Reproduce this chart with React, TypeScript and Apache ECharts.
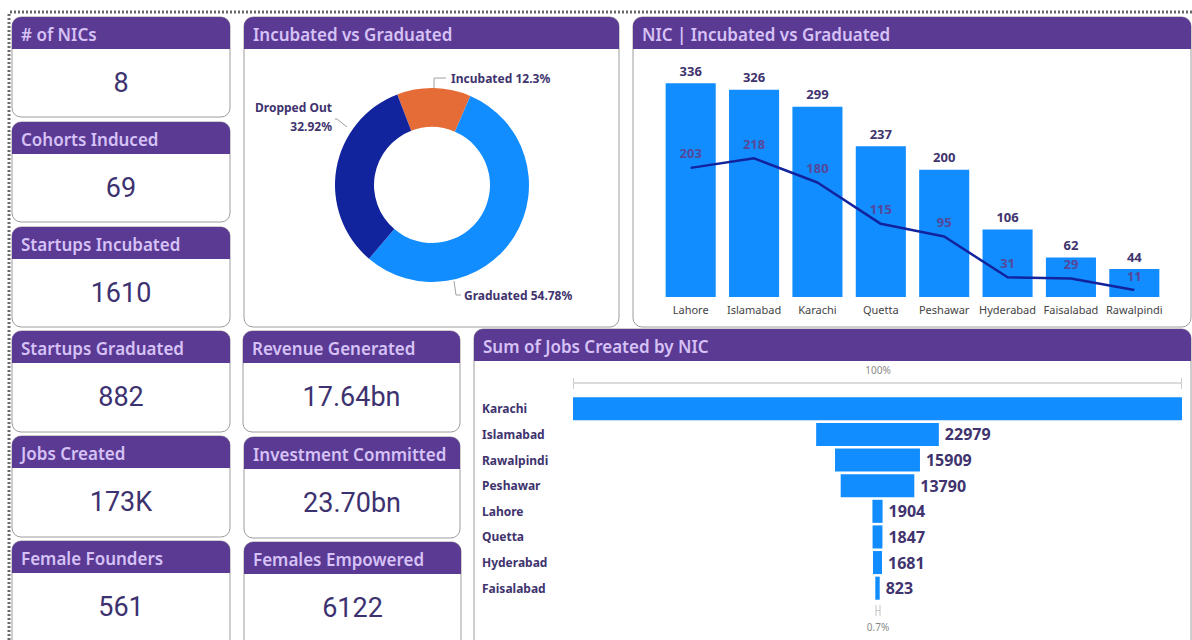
import React, { useEffect, useRef } from "react";
import * as echarts from "echarts";

// ---------- DATA ----------
const kpiTitles = [
  "# of NICs",
  "Cohorts Induced",
  "Startups Incubated",
  "Startups Graduated",
  "Jobs Created",
  "Female Founders",
  "Revenue Generated",
  "Investment Committed",
  "Females Empowered",
];
const kpiValues = ["8", "69", "1610", "882", "173K", "561", "17.64bn", "23.70bn", "6122"];

const donutLabels = ["Incubated", "Graduated", "Dropped Out"];
const donutValues = [198, 882, 530];

const nicCities = ["Lahore", "Islamabad", "Karachi", "Quetta", "Peshawar", "Hyderabad", "Faisalabad", "Rawalpindi"];
const nicIncubated = [336, 326, 299, 237, 200, 106, 62, 44];
const nicGraduated = [203, 218, 180, 115, 95, 31, 29, 11];

const jobCities = ["Karachi", "Islamabad", "Rawalpindi", "Peshawar", "Lahore", "Quetta", "Hyderabad", "Faisalabad"];
const jobsCreated = [114067, 22979, 15909, 13790, 1904, 1847, 1681, 823];

const panelTitles = ["Incubated vs Graduated", "NIC | Incubated vs Graduated", "Sum of Jobs Created by NIC"];

// ---------- LAYOUT / STYLE ----------
const kpiBoxes = [
  [12, 17, 218, 100],
  [12, 122, 218, 100],
  [12, 227, 218, 100],
  [12, 331, 218, 101],
  [12, 436, 218, 101],
  [12, 541, 218, 110],
  [243, 331, 217, 101],
  [244, 437, 216, 101],
  [244, 542, 217, 110],
];
const panelBoxes = [
  [244, 17, 375, 310],
  [633, 17, 558, 310],
  [474, 329, 717, 320],
];
const HEADER_H = 32;
const PURPLE = "#5A3A93";
const HEADER_TEXT = "#D6C2F6";
const VALUE_TEXT = "#3D3270";
const LABEL_TEXT = "#40336E";
const donutColors = ["#E66C37", "#118DFF", "#12239E"];

function card(x: number, y: number, w: number, h: number, title: string) {
  return [
    {
      type: "rect",
      shape: { x, y, width: w, height: h, r: 9 },
      style: { fill: "#ffffff", stroke: "#9c9c9c", lineWidth: 1 },
    },
    {
      type: "rect",
      shape: { x, y, width: w, height: HEADER_H, r: [9, 9, 0, 0] },
      style: { fill: PURPLE },
    },
    {
      type: "text",
      x: x + 9,
      y: y + HEADER_H / 2 + 1,
      style: {
        text: title,
        fill: HEADER_TEXT,
        fontSize: 17,
        fontWeight: 600,
        fontFamily: "Noto Sans",
        textAlign: "left",
        textVerticalAlign: "middle",
      },
    },
  ];
}

export default function App() {
  const ref = useRef<HTMLDivElement>(null);

  useEffect(() => {
    if (!ref.current) return;
    const chart = echarts.init(ref.current, null, { renderer: "svg" });

    const graphics: any[] = [];
    // dotted frame
    graphics.push({
      type: "line",
      shape: { x1: 10, y1: 12, x2: 1192, y2: 12 },
      style: { stroke: "#6a6a6a", lineWidth: 3, lineDash: [2, 2] },
    });
    graphics.push({
      type: "line",
      shape: { x1: 9, y1: 14, x2: 9, y2: 640 },
      style: { stroke: "#6a6a6a", lineWidth: 3, lineDash: [2, 2] },
    });

    kpiTitles.forEach((t, i) => {
      const [x, y, w, h] = kpiBoxes[i];
      graphics.push(...card(x, y, w, h, t));
      graphics.push({
        type: "text",
        x: x + w / 2,
        y: y + HEADER_H + 34,
        style: {
          text: kpiValues[i],
          fill: VALUE_TEXT,
          fontSize: 27,
          fontFamily: "Roboto",
          textAlign: "center",
          textVerticalAlign: "middle",
        },
      });
    });
    panelTitles.forEach((t, i) => {
      const [x, y, w, h] = panelBoxes[i];
      graphics.push(...card(x, y, w, h, t));
    });

    // funnel annotations
    graphics.push({
      type: "text",
      x: 878,
      y: 370,
      style: { text: "100%", fill: "#8a8a8a", fontSize: 10, fontFamily: "Noto Sans", textAlign: "center", textVerticalAlign: "middle" },
    });
    graphics.push({ type: "line", shape: { x1: 573, y1: 383, x2: 1182, y2: 383 }, style: { stroke: "#cfcfcf", lineWidth: 1.5 } });
    graphics.push({ type: "line", shape: { x1: 573.5, y1: 378, x2: 573.5, y2: 389 }, style: { stroke: "#cfcfcf", lineWidth: 1 } });
    graphics.push({ type: "line", shape: { x1: 1181.5, y1: 378, x2: 1181.5, y2: 389 }, style: { stroke: "#cfcfcf", lineWidth: 1 } });
    graphics.push({ type: "line", shape: { x1: 876, y1: 605, x2: 876, y2: 616 }, style: { stroke: "#c4c4c4", lineWidth: 1 } });
    graphics.push({ type: "line", shape: { x1: 880, y1: 605, x2: 880, y2: 616 }, style: { stroke: "#c4c4c4", lineWidth: 1 } });
    graphics.push({ type: "line", shape: { x1: 876, y1: 610.5, x2: 880, y2: 610.5 }, style: { stroke: "#c4c4c4", lineWidth: 1 } });
    graphics.push({
      type: "text",
      x: 878,
      y: 627,
      style: { text: "0.7%", fill: "#8a8a8a", fontSize: 10, fontFamily: "Noto Sans", textAlign: "center", textVerticalAlign: "middle" },
    });

    const jobsMax = Math.max(...jobsCreated);

    chart.setOption({
      animation: false,
      backgroundColor: "#ffffff",
      textStyle: { fontFamily: "Noto Sans" },
      graphic: { elements: graphics },
      grid: [
        { left: 659, right: 26, top: 68, bottom: 343 },
        { left: 573, right: 10, top: 396, bottom: 39 },
      ],
      xAxis: [
        {
          type: "category",
          gridIndex: 0,
          data: nicCities,
          axisLine: { show: false },
          axisTick: { show: false },
          axisLabel: { color: "#444", fontSize: 11, margin: 7, interval: 0 },
        },
        {
          type: "value",
          gridIndex: 1,
          min: 0,
          max: jobsMax,
          show: false,
        },
      ],
      yAxis: [
        { type: "value", gridIndex: 0, min: 0, max: 360, show: false },
        {
          type: "category",
          gridIndex: 1,
          data: jobCities,
          inverse: true,
          axisLine: { show: false },
          axisTick: { show: false },
          axisLabel: { color: LABEL_TEXT, fontSize: 12, fontWeight: "bold", align: "left", margin: 91 },
        },
      ],
      series: [
        {
          type: "pie",
          center: [432, 185],
          radius: [58, 97],
          startAngle: 111,
          clockwise: true,
          data: donutLabels.map((n, i) => ({ name: n, value: donutValues[i], itemStyle: { color: donutColors[i] } })),
          label: {
            formatter: (p: any) => (p.name === "Dropped Out" ? `${p.name}\n${p.percent}%` : `${p.name} ${p.percent}%`),
            color: LABEL_TEXT,
            fontSize: 12,
            fontWeight: "bold",
            lineHeight: 19,
          },
          labelLine: { length: 10, length2: 12, lineStyle: { color: "#a0a0a0", width: 1 } },
          labelLayout: (p: any) => {
            if (p.dataIndex === 2)
              return {
                x: 332,
                y: 117,
                align: "right",
                verticalAlign: "middle",
                labelLinePoints: [[347, 127], [337, 119], [335, 119]],
              };
            if (p.dataIndex === 1)
              return {
                x: 464,
                y: 295,
                align: "left",
                verticalAlign: "middle",
                labelLinePoints: [[454, 281], [456, 295], [461, 295]],
              };
            return {};
          },
          emphasis: { disabled: true },
        },
        {
          type: "bar",
          xAxisIndex: 0,
          yAxisIndex: 0,
          data: nicIncubated,
          barCategoryGap: "21%",
          itemStyle: { color: "#118DFF" },
          label: { show: true, position: "top", distance: 6, color: LABEL_TEXT, fontSize: 13, fontWeight: "bold" },
        },
        {
          type: "line",
          xAxisIndex: 0,
          yAxisIndex: 0,
          data: nicGraduated,
          symbol: "circle",
          symbolSize: 0,
          showSymbol: true,
          lineStyle: { color: "#12239E", width: 2.5 },
          itemStyle: { color: "#12239E" },
          label: { show: true, position: "top", distance: 8, color: "#55489A", fontSize: 13, fontWeight: "bold" },
        },
        {
          type: "bar",
          xAxisIndex: 1,
          yAxisIndex: 1,
          stack: "funnel",
          data: jobsCreated.map((v) => (jobsMax - v) / 2),
          itemStyle: { color: "transparent" },
          barCategoryGap: "10%",
          silent: true,
        },
        {
          type: "bar",
          xAxisIndex: 1,
          yAxisIndex: 1,
          stack: "funnel",
          data: jobsCreated.map((v, i) => (i === 0 ? { value: v, label: { show: false } } : v)),
          itemStyle: { color: "#118DFF" },
          barCategoryGap: "10%",
          label: { show: true, position: "right", distance: 6, color: LABEL_TEXT, fontSize: 16, fontWeight: "bold" },
        },
      ],
    });

    return () => chart.dispose();
  }, []);

  return <div ref={ref} style={{ position: "absolute", left: 0, top: 0, width: 1192, height: 640 }} />;
}
